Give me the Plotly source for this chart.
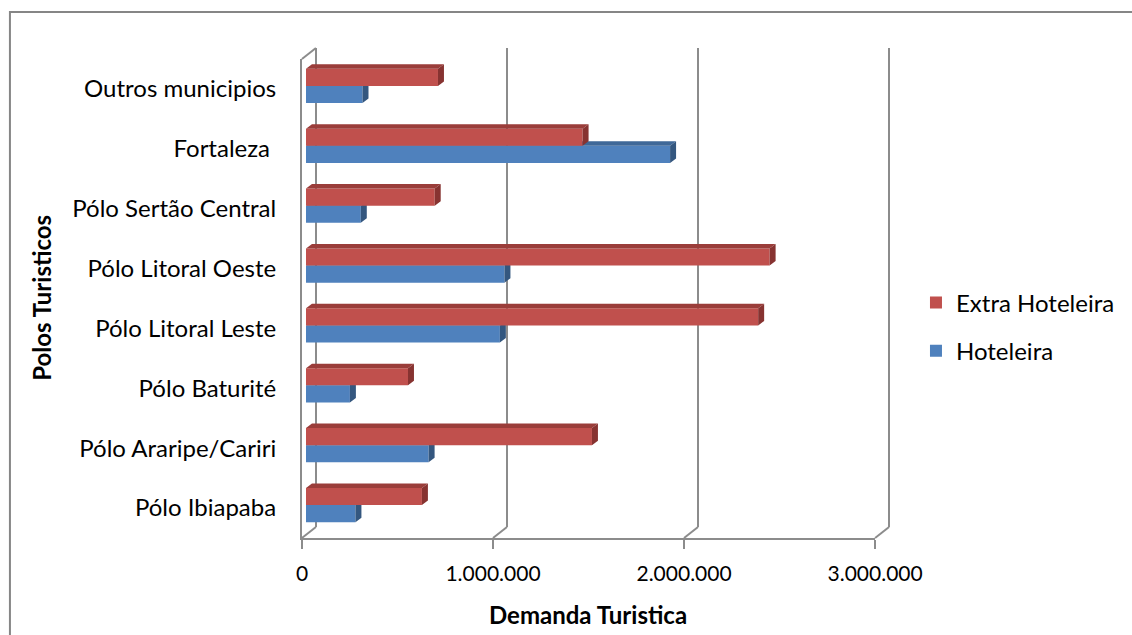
import plotly.graph_objects as go

# Tourist demand per tourism pole, split into hotel and non-hotel lodging
categories = [
    "Pólo Ibiapaba",
    "Pólo Araripe/Cariri",
    "Pólo Baturité",
    "Pólo Litoral Leste",
    "Pólo Litoral Oeste",
    "Pólo Sertão Central",
    "Fortaleza ",
    "Outros municipios",
]
hoteleira = [259000, 642000, 230000, 1015000, 1039000, 287000, 1906000, 296000]
extra_hoteleira = [607000, 1497000, 534000, 2367000, 2427000, 674000, 1448000, 691000]
x_tick_values = [0, 1000000, 2000000, 3000000]
x_tick_labels = ["0", "1.000.000", "2.000.000", "3.000.000"]

# ---- page geometry (pixels) ----
W, H = 1132, 635
ML, MR, MT, MB = 296, 222, 48, 97
PW, PH = W - ML - MR, H - MT - MB


def fx(p):
    return (p - ML) / PW


def fy(p):
    return (H - MB - p) / PH


X_MAX = 3000000
N = len(categories)
Y_RANGE = [-0.5, N - 0.5]

# 3-D look: back wall, bar plane and front floor edge are offset copies of the same scale
SCALE_PX = 575                       # pixels covered by 0 .. X_MAX
PAD = 0.03 * X_MAX                   # keeps the end gridlines of the back wall inside its plot
PAD_PX = PAD / X_MAX * SCALE_PX
BACK_X, BACK_Y = [fx(316 - PAD_PX), fx(316 + SCALE_PX + PAD_PX)], [fy(527), fy(48)]
BAR_X, BAR_Y = [fx(306), fx(306 + SCALE_PX)], [fy(535), fy(56)]
FRONT_X, FRONT_Y = [fx(302), fx(302 + SCALE_PX)], [fy(538), fy(59)]

BAR_W = 0.285                      # thickness of one bar in category units
px_per_unit_x = SCALE_PX / X_MAX
px_per_unit_y = (535 - 56) / N
DX = 6 / px_per_unit_x             # bar depth, horizontal part
DY = 4.5 / px_per_unit_y           # bar depth, vertical part

RED, RED_TOP, RED_SIDE = "#C0504D", "#9A3D3A", "#873331"
BLUE, BLUE_TOP, BLUE_SIDE = "#4F81BD", "#3F6898", "#34577F"
GRID = "#8C8C8C"
FONT = "Lato"
TXT = dict(family=FONT, size=24, color="#000000")


def depth_faces(values, offset):
    """Top and right-hand faces of each bar, in data coordinates."""
    tx, ty, sx, sy = [], [], [], []
    for i, v in enumerate(values):
        bot = i + offset
        top = bot + BAR_W
        tx += [0, v, v + DX, DX, 0, None]
        ty += [top, top, top + DY, top + DY, top, None]
        sx += [v, v, v + DX, v + DX, v, None]
        sy += [bot, top, top + DY, bot + DY, bot, None]
    return (tx, ty), (sx, sy)


fig = go.Figure()

# back wall gridlines live on their own (invisible) subplot
fig.add_trace(go.Scatter(x=[0], y=[0], mode="markers", marker=dict(opacity=0),
                         showlegend=False, hoverinfo="skip", xaxis="x", yaxis="y"))
# front floor edge carries the tick labels
fig.add_trace(go.Scatter(x=[0], y=[0], mode="markers", marker=dict(opacity=0),
                         showlegend=False, hoverinfo="skip", xaxis="x2", yaxis="y2"))

# Extra Hoteleira sits on an overlaid subplot so its bars cover the Hoteleira top faces
series = [
    ("Extra Hoteleira", extra_hoteleira, 0.0, RED, RED_TOP, RED_SIDE, "x4", "y4", "e"),
    ("Hoteleira", hoteleira, -BAR_W, BLUE, BLUE_TOP, BLUE_SIDE, "x3", "y3", "h"),
]
for name, vals, off, front, topc, sidec, xa, ya, grp in series:
    fig.add_trace(go.Bar(
        name=name, orientation="h", x=vals, y=list(range(N)),
        width=BAR_W, offset=off, marker=dict(color=front, line=dict(width=0)),
        xaxis=xa, yaxis=ya, legendgroup=grp, hoverinfo="x+name",
    ))
    (tx, ty), (sx, sy) = depth_faces(vals, off)
    for fxs, fys, col in [(tx, ty, topc), (sx, sy, sidec)]:
        fig.add_trace(go.Scatter(
            x=fxs, y=fys, mode="lines", fill="toself", fillcolor=col,
            line=dict(width=0, color=col), showlegend=False, hoverinfo="skip",
            xaxis=xa, yaxis=ya, legendgroup=grp,
        ))

shapes = []
# edges joining the back wall to the floor, and the side wall top edge
for v in x_tick_values:
    shapes.append(dict(type="line", xref="x", xsizemode="pixel", xanchor=v,
                       x0=-14, x1=0, yref="paper", y0=FRONT_Y[0], y1=BACK_Y[0],
                       line=dict(color=GRID, width=2)))
shapes.append(dict(type="line", xref="x", xsizemode="pixel", xanchor=0,
                   x0=-14, x1=0, yref="paper", y0=FRONT_Y[1], y1=BACK_Y[1],
                   line=dict(color=GRID, width=2)))
# chart frame
shapes.append(dict(type="rect", xref="paper", yref="paper",
                   x0=fx(9), x1=fx(1150), y0=fy(12), y1=fy(660),
                   line=dict(color="#868686", width=2), fillcolor="rgba(0,0,0,0)",
                   layer="below"))

hidden = dict(showgrid=False, zeroline=False, showticklabels=False, showline=False, ticks="")

fig.update_layout(
    width=W, height=H,
    margin=dict(l=ML, r=MR, t=MT, b=MB, pad=0),
    paper_bgcolor="white", plot_bgcolor="rgba(0,0,0,0)",
    font=TXT,
    barmode="overlay",
    showlegend=True,
    xaxis=dict(domain=BACK_X, range=[-PAD, X_MAX + PAD], tickvals=x_tick_values,
               showgrid=True, gridcolor=GRID, gridwidth=2, zeroline=False,
               showticklabels=False, showline=False, ticks=""),
    yaxis=dict(domain=BACK_Y, range=Y_RANGE, anchor="x", **hidden),
    xaxis2=dict(domain=FRONT_X, range=[0, X_MAX], anchor="y2", tickvals=x_tick_values,
                ticktext=x_tick_labels, showgrid=False, zeroline=False, showline=True,
                linecolor=GRID, linewidth=2, ticks="outside", ticklen=9, tickwidth=2,
                tickcolor=GRID, ticklabelstandoff=7,
                tickfont=dict(family=FONT, size=21, color="#000000")),
    yaxis2=dict(domain=FRONT_Y, range=Y_RANGE, anchor="x2", tickvals=list(range(N)),
                ticktext=categories, showgrid=False, zeroline=False, showline=True,
                linecolor=GRID, linewidth=2, ticks="", ticklabelstandoff=19,
                tickfont=TXT),
    xaxis3=dict(domain=BAR_X, range=[0, X_MAX], anchor="y3", **hidden),
    yaxis3=dict(domain=BAR_Y, range=Y_RANGE, anchor="x3", **hidden),
    xaxis4=dict(overlaying="x3", range=[0, X_MAX], anchor="y4", **hidden),
    yaxis4=dict(overlaying="y3", range=Y_RANGE, anchor="x4", **hidden),
    legend=dict(x=fx(918), xanchor="left", y=fy(327), yanchor="middle",
                traceorder="grouped", tracegroupgap=14, font=TXT,
                bgcolor="rgba(0,0,0,0)", itemclick=False),
    shapes=shapes,
    annotations=[
        dict(text="<b>Demanda Turistica</b>", xref="paper", yref="paper",
             x=fx(589), y=fy(614), showarrow=False, xanchor="center", yanchor="middle",
             font=TXT),
        dict(text="<b>Polos Turisticos</b>", xref="paper", yref="paper",
             x=fx(40), y=fy(298), showarrow=False, textangle=-90,
             xanchor="center", yanchor="middle", font=TXT),
    ],
)

fig.write_html("out.html")
